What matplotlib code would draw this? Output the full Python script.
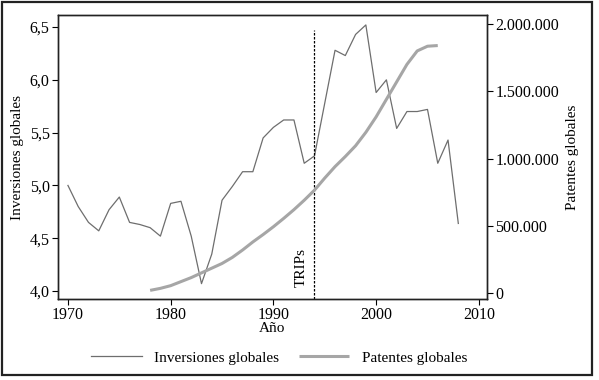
import matplotlib
matplotlib.use("Agg")
import matplotlib.pyplot as plt
from matplotlib.patches import Rectangle
from matplotlib.ticker import FuncFormatter

# inversiones globales, 1970-2008
inv_years = list(range(1970, 2009))
inv_values = [5.00, 4.80, 4.65, 4.57, 4.77, 4.89, 4.65, 4.63, 4.60, 4.52,
              4.83, 4.85, 4.52, 4.07, 4.35, 4.86, 4.99, 5.13, 5.13, 5.45,
              5.55, 5.62, 5.62, 5.21, 5.28, 5.78, 6.28, 6.23, 6.43, 6.52,
              5.88, 6.00, 5.54, 5.70, 5.70, 5.72, 5.21, 5.43, 4.64]

# patentes globales, 1978-2006
pat_years = list(range(1978, 2007))
pat_values = [20000, 35000, 55000, 85000, 115000, 150000, 185000, 220000,
              265000, 320000, 380000, 435000, 493000, 555000, 620000, 690000,
              765000, 855000, 940000, 1015000, 1095000, 1195000, 1310000,
              1440000, 1570000, 1700000, 1800000, 1835000, 1840000]

trips_year = 1994

plt.rcParams['font.family'] = ['Liberation Serif', 'DejaVu Serif']
plt.rcParams['font.size'] = 11

fig = plt.figure(figsize=(5.99, 3.80), dpi=100)
ax = fig.add_axes([0.0968, 0.213, 0.716, 0.7475])
ax2 = ax.twinx()

l1, = ax.plot(inv_years, inv_values, color='#6e6e6e', lw=0.9)
l2, = ax2.plot(pat_years, pat_values, color='#a6a6a6', lw=2.2, solid_capstyle='butt')

ax.axvline(trips_year, ymin=0, ymax=0.947, color='black', lw=0.9, ls=(0, (2, 1.2)))
ax.text(trips_year - 1.25, 4.04, 'TRIPs', rotation=90, ha='center', va='bottom')

ax.set_xlim(1969.03, 2010.78)
ax.set_ylim(3.924, 6.614)
ax2.set_ylim(-44600, 2067000)

ax.set_xticks([1970, 1980, 1990, 2000, 2010])
ax.set_yticks([4.0, 4.5, 5.0, 5.5, 6.0, 6.5])
ax2.set_yticks([0, 500000, 1000000, 1500000, 2000000])
ax.yaxis.set_major_formatter(FuncFormatter(lambda v, p: f"{v:.1f}".replace('.', ',')))
ax2.yaxis.set_major_formatter(FuncFormatter(lambda v, p: f"{int(v):,}".replace(',', '.')))

for a in (ax, ax2):
    a.tick_params(direction='out', length=4, width=0.8, pad=2, labelsize=11.5)
    for s in a.spines.values():
        s.set_linewidth(1.0)
        s.set_color('#222222')

ax.set_xlabel('Año', labelpad=-1)
ax.set_ylabel('Inversiones globales', labelpad=4)
ax2.set_ylabel('Patentes globales', labelpad=5)

fig.legend([l1, l2], ['Inversiones globales', 'Patentes globales'],
           loc='center', bbox_to_anchor=(0.466, 0.058), ncol=2, frameon=False,
           handlelength=3.3, columnspacing=1.3, handletextpad=0.8, fontsize=11)

fig.patches.append(Rectangle((2 / 599, 5 / 380), 590 / 599, 373 / 380,
                             transform=fig.transFigure, fill=False,
                             edgecolor='#222222', lw=1.6))

fig.savefig('out.png', dpi=100)
